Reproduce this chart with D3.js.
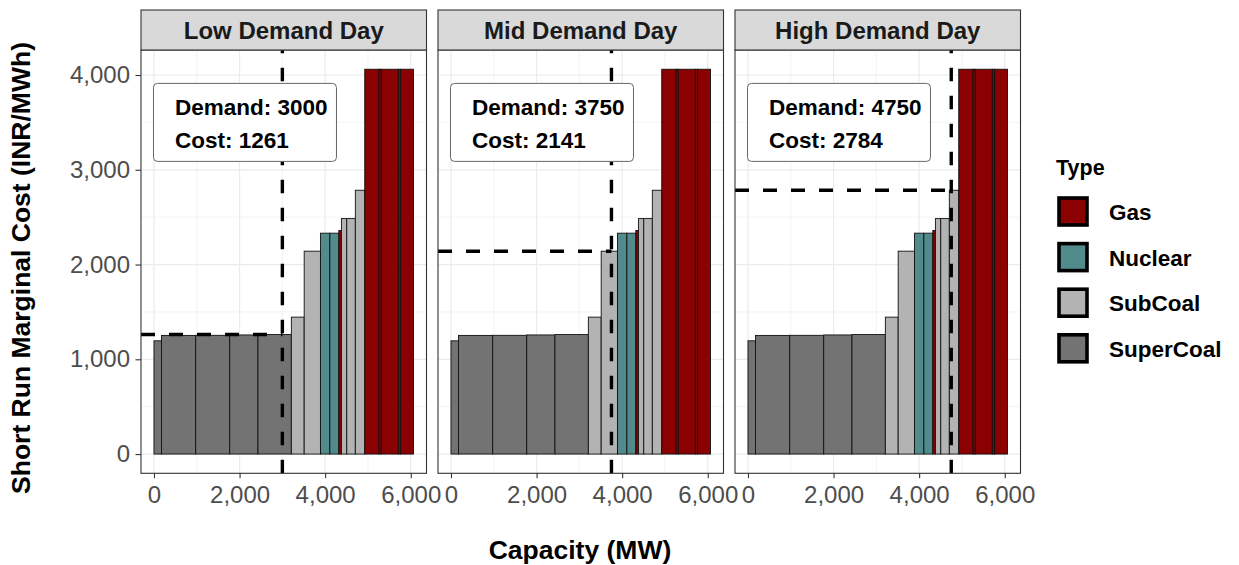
<!DOCTYPE html>
<html>
<head>
<meta charset="utf-8">
<script src="https://cdn.jsdelivr.net/npm/d3@7"></script>
<style>
  body { margin: 0; background: #fff; }
  svg { font-family: "Liberation Sans", Arial, sans-serif; }
</style>
</head>
<body>
<div id="chart"></div>
<script>
// merit order data (same plants for every day)
var capacity = [175, 800, 795, 660, 780, 300, 380, 220, 210, 60, 125, 200, 220, 335, 50, 400, 55, 300];
var cost = [1195, 1252, 1253, 1257, 1261, 1445, 2141, 2331, 2331, 2360, 2485, 2485, 2784, 4061, 4061, 4061, 4061, 4061];
var plantType = ["SuperCoal", "SuperCoal", "SuperCoal", "SuperCoal", "SuperCoal",
  "SubCoal", "SubCoal", "Nuclear", "Nuclear", "Gas", "SubCoal", "SubCoal", "SubCoal",
  "Gas", "Gas", "Gas", "Gas", "Gas"];

var days = ["Low Demand Day", "Mid Demand Day", "High Demand Day"];
var demand = [3000, 3750, 4750];
var clearing = [1261, 2141, 2784];

var types = ["Gas", "Nuclear", "SubCoal", "SuperCoal"];
var typeColors = ["#8B0000", "#528B8B", "#B3B3B3", "#737373"];
var xTicks = [0, 2000, 4000, 6000];
var yTicks = [0, 1000, 2000, 3000, 4000];

var W = 1239, H = 565;
var panelLeft = [141, 438, 735], panelW = 285.5;
var plotTop = 50, plotBottom = 473.3;

var svg = d3.select("#chart").append("svg").attr("width", W).attr("height", H);

var color = d3.scaleOrdinal().domain(types).range(typeColors);

var ends = d3.cumsum(capacity);
var total = ends[ends.length - 1];
var bars = capacity.map(function(c, i) {
  return { x0: ends[i] - c, x1: ends[i], cost: cost[i], type: plantType[i] };
});
var maxCost = d3.max(cost);

var y = d3.scaleLinear().domain([-0.05 * maxCost, 1.05 * maxCost]).range([plotBottom, plotTop]);
var fmt = d3.format(",");

days.forEach(function(day, p) {
  var left = panelLeft[p];
  var x = d3.scaleLinear().domain([-0.05 * total, 1.05 * total]).range([left, left + panelW]);
  var g = svg.append("g");

  // grid
  var minorX = [1000, 3000, 5000], minorY = [500, 1500, 2500, 3500];
  g.selectAll(".mx").data(minorX).enter().append("line")
    .attr("x1", d => x(d)).attr("x2", d => x(d)).attr("y1", plotTop).attr("y2", plotBottom)
    .attr("stroke", "#EBEBEB").attr("stroke-width", 0.6);
  g.selectAll(".my").data(minorY).enter().append("line")
    .attr("x1", left).attr("x2", left + panelW).attr("y1", d => y(d)).attr("y2", d => y(d))
    .attr("stroke", "#EBEBEB").attr("stroke-width", 0.6);
  g.selectAll(".gx").data(xTicks).enter().append("line")
    .attr("x1", d => x(d)).attr("x2", d => x(d)).attr("y1", plotTop).attr("y2", plotBottom)
    .attr("stroke", "#EBEBEB").attr("stroke-width", 1.2);
  g.selectAll(".gy").data(yTicks).enter().append("line")
    .attr("x1", left).attr("x2", left + panelW).attr("y1", d => y(d)).attr("y2", d => y(d))
    .attr("stroke", "#EBEBEB").attr("stroke-width", 1.2);

  // bars
  g.selectAll(".bar").data(bars).enter().append("rect")
    .attr("x", d => x(d.x0)).attr("width", d => x(d.x1) - x(d.x0))
    .attr("y", d => y(d.cost)).attr("height", d => y(0) - y(d.cost))
    .attr("fill", d => color(d.type))
    .attr("stroke", "#111").attr("stroke-width", 0.9);

  // demand lines
  g.append("line")
    .attr("x1", x(demand[p])).attr("x2", x(demand[p])).attr("y1", plotBottom).attr("y2", plotTop)
    .attr("stroke", "#000").attr("stroke-width", 3.4).attr("stroke-dasharray", "13.5,14.5");
  g.append("line")
    .attr("x1", left).attr("x2", x(demand[p])).attr("y1", y(clearing[p])).attr("y2", y(clearing[p]))
    .attr("stroke", "#000").attr("stroke-width", 3.4).attr("stroke-dasharray", "14,14");

  // label
  var bx = x(0) - 0.5, by = y(3500) - 39;
  g.append("rect").attr("x", bx).attr("y", by).attr("width", 183).attr("height", 78)
    .attr("rx", 4).attr("fill", "#fff").attr("stroke", "#666").attr("stroke-width", 1);
  g.append("text").attr("x", bx + 21.5).attr("y", by + 32)
    .attr("font-size", "22.5px").attr("font-weight", "bold").attr("fill", "#000")
    .text("Demand: " + demand[p]);
  g.append("text").attr("x", bx + 21.5).attr("y", by + 64.5)
    .attr("font-size", "22.5px").attr("font-weight", "bold").attr("fill", "#000")
    .text("Cost: " + clearing[p]);

  // panel border
  g.append("rect").attr("x", left).attr("y", plotTop).attr("width", panelW).attr("height", plotBottom - plotTop)
    .attr("fill", "none").attr("stroke", "#333").attr("stroke-width", 1.1);

  // strip
  g.append("rect").attr("x", left).attr("y", 10).attr("width", panelW).attr("height", 40)
    .attr("fill", "#D9D9D9").attr("stroke", "#333").attr("stroke-width", 1.1);
  g.append("text").attr("x", left + panelW / 2).attr("y", 38.5).attr("text-anchor", "middle")
    .attr("font-size", "24px").attr("font-weight", "bold").attr("fill", "#1A1A1A").text(day);

  // x axis
  var xa = svg.append("g").attr("transform", "translate(0," + plotBottom + ")")
    .call(d3.axisBottom(x).tickValues(xTicks).tickFormat(fmt).tickSize(5).tickPadding(7.2));
  xa.select(".domain").remove();
  xa.selectAll("line").attr("stroke", "#333").attr("stroke-width", 1.1);
  xa.selectAll("text").attr("font-size", "24px").attr("fill", "#4D4D4D").attr("font-family", null);

  if (p == 0) {
    var ya = svg.append("g").attr("transform", "translate(" + left + ",0)")
      .call(d3.axisLeft(y).tickValues(yTicks).tickFormat(fmt).tickSize(5.5).tickPadding(5.5));
    ya.select(".domain").remove();
    ya.selectAll("line").attr("stroke", "#333").attr("stroke-width", 1.1);
    ya.selectAll("text").attr("font-size", "24px").attr("fill", "#4D4D4D").attr("font-family", null);
  }
});

// axis titles
svg.append("text").attr("x", 580).attr("y", 559).attr("text-anchor", "middle")
  .attr("font-size", "26.5px").attr("font-weight", "bold").attr("fill", "#000").text("Capacity (MW)");
svg.append("text").attr("transform", "translate(30,268) rotate(-90)").attr("text-anchor", "middle")
  .attr("font-size", "26.5px").attr("font-weight", "bold").attr("fill", "#000")
  .text("Short Run Marginal Cost (INR/MWh)");

// legend
var leg = svg.append("g");
leg.append("text").attr("x", 1056).attr("y", 175).attr("font-size", "21.5px").attr("font-weight", "bold")
  .attr("fill", "#000").text("Type");
types.forEach(function(t, i) {
  var cy = 211.5 + i * 45.6;
  leg.append("rect").attr("x", 1059).attr("y", cy - 13.5).attr("width", 28).attr("height", 27)
    .attr("fill", color(t)).attr("stroke", "#000").attr("stroke-width", 3.6);
  leg.append("text").attr("x", 1109).attr("y", cy + 8.5).attr("font-size", "22.5px").attr("font-weight", "bold")
    .attr("fill", "#000").text(t);
});
</script>
</body>
</html>
